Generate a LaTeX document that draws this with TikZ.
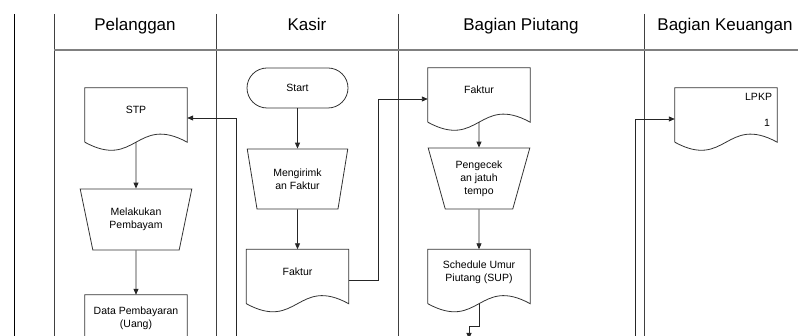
\documentclass[tikz,border=0pt]{standalone}
\usepackage{fontspec}
\setmainfont{Liberation Sans}
\usetikzlibrary{arrows.meta, shapes.geometric, calc}
\tikzset{
  lane/.style={draw=black!75, line width=1pt},
  headline/.style={draw=black!50, line width=1.6pt},
  head/.style={font=\fontsize{17}{20}\selectfont, anchor=base},
  txt/.style={font=\fontsize{10.5}{12.8}\selectfont, inner sep=0pt},
  docu/.style={rectangle, minimum width=102pt, minimum height=54pt, inner sep=2pt,
               text depth=10pt, font=\fontsize{10.5}{12.8}\selectfont, align=center},
  docline/.style={draw=black!80, line width=0.8pt},
  proc/.style={trapezium, shape border rotate=180, trapezium stretches=true,
               trapezium left angle=72, trapezium right angle=72, draw=black!80,
               line width=0.8pt, minimum width=102pt, minimum height=61pt, inner sep=1pt,
               font=\fontsize{10.5}{13}\selectfont, align=center},
  term/.style={rectangle, rounded corners=20pt, draw=black!80, line width=0.8pt,
               minimum width=101pt, minimum height=40pt, font=\fontsize{10.5}{12.8}\selectfont},
  arc/.style={-{Triangle[length=6pt,width=5pt]}, line width=0.9pt, black!85}
}
\begin{document}
\begin{tikzpicture}[x=1pt, y=1pt]
  \useasboundingbox (0,0) rectangle (798,-336);
  \draw[lane, draw=black] (14,-14) -- (14,-340);
  \foreach \x in {54,216,398,644} \draw[lane] (\x,-14) -- (\x,-340);
  \draw[headline] (54,-50) -- (800,-50);
  \node[head] (hpel) at (135,-31) {Pelanggan};
  \node[head] (hkas) at (307,-31) {Kasir};
  \node[head] (hpiu) at (521,-31) {Bagian Piutang};
  \node[head] (hkeu) at (725,-31) {Bagian Keuangan};
  % Pelanggan
  \node[docu] (stp) at (136,-115) {STP};
  \node[proc, minimum width=112pt] (bayar) at (136,-219.5) {Melakukan\\Pembayam};
  \node[docu] (data) at (136,-322) {Data Pembayaran\\(Uang)};
  % Kasir
  \node[term] (start) at (297.5,-88) {Start};
  \node[proc, minimum width=101pt, minimum height=60pt, trapezium left angle=75,
        trapezium right angle=75] (kirim) at (297.5,-179) {Mengirimk\\an Faktur};
  \node[docu] (faktur1) at (297.5,-276.5) {Faktur};
  % Bagian Piutang
  \node[docu] (faktur2) at (479,-95) {Faktur};
  \node[proc] (cek) at (479,-178.5) {Pengecek\\an jatuh\\tempo};
  \node[docu] (sup) at (479,-276.5) {Schedule Umur\\Piutang (SUP)};
  % Bagian Keuangan
  \node[docu] (lpkp) at (726,-115) {};
  \node[txt, anchor=east] (lpkpnm) at ([xshift=-5pt,yshift=-9pt]lpkp.north east) {LPKP};
  \node[txt, anchor=east] (lpkpno) at ([xshift=-7pt,yshift=19pt]lpkp.south east) {1};
  \foreach \d in {stp,data,faktur1,faktur2,sup,lpkp}
    \draw[docline] (\d.south west) -- (\d.north west) -- (\d.north east) -- (\d.south east)
      .. controls ([yshift=28pt]\d.south) and ([yshift=-28pt]\d.south) .. (\d.south west);
  \coordinate (stpin) at (236,-340);
  \coordinate (supout) at (469,-339);
  \coordinate (lpkpin) at (635,-340);
  \draw[arc] (stp) -- (bayar);
  \draw[arc] (bayar) -- (data);
  \draw[arc] (start) -- (kirim);
  \draw[arc] (kirim) -- (faktur1);
  \draw[arc] ([yshift=-3.5pt]faktur1.east) -- ++(30,0) |- ([yshift=-4pt]faktur2.west);
  \draw[arc] (faktur2) -- (cek);
  \draw[arc] (cek) -- (sup);
  \draw[arc] (sup.south) -- ++(0,-23) -| (supout);
  \draw[arc] (stpin) |- ([yshift=-3pt]stp.east);
  \draw[arc] (lpkpin) |- ([yshift=-4pt]lpkp.west);
\end{tikzpicture}
\end{document}
